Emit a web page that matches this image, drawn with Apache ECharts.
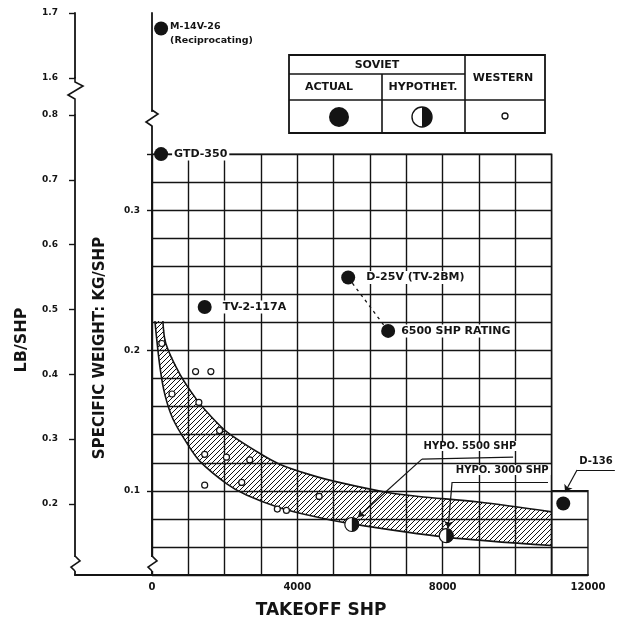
<!DOCTYPE html>
<html>
<head>
<meta charset="utf-8">
<script src="https://cdn.jsdelivr.net/npm/echarts@6/dist/echarts.min.js"></script>
<style>
  html, body { margin: 0; padding: 0; background: #fff; }
  #chart { width: 629px; height: 628px; }
</style>
</head>
<body>
<div id="chart"></div>
<script>
// ---- data: takeoff power (shp) and specific weight (kg/shp) ----
const actualNames = ['GTD-350', 'TV-2-117A', 'D-25V (TV-2BM)', '6500 SHP RATING', 'D-136'];
const actualShp   = [250, 1450, 5400, 6500, 11320];
const actualKg    = [0.340, 0.231, 0.252, 0.214, 0.091];

const recipNames = ['M-14V-26'];
const recipShp   = [250];
const recipKg    = [0.759];

const hypoNames = ['HYPO. 5500 SHP', 'HYPO. 3000 SHP'];
const hypoShp   = [5500, 8100];
const hypoKg    = [0.076, 0.068];

const westernShp = [270, 550, 1200, 1620, 1290, 1860, 1450, 2050, 2690, 1450, 2470, 3450, 3700, 4600];
const westernKg  = [0.205, 0.169, 0.185, 0.185, 0.163, 0.143, 0.126, 0.124, 0.122, 0.104, 0.106, 0.087, 0.086, 0.096];

// band of current practice (upper and lower edges)
const bandUpperShp = [300, 380, 770, 1230, 1590, 2060, 2880, 3510, 4410, 5150, 6440, 7340, 8990, 11000];
const bandUpperKg  = [0.221, 0.205, 0.183, 0.165, 0.154, 0.142, 0.128, 0.119, 0.111, 0.106, 0.099, 0.096, 0.092, 0.085];
const bandLowerShp = [80, 220, 360, 580, 960, 1320, 2060, 2600, 3510, 4410, 5370, 8080, 11000];
const bandLowerKg  = [0.221, 0.188, 0.168, 0.151, 0.134, 0.121, 0.105, 0.097, 0.088, 0.082, 0.077, 0.067, 0.061];

// tick labels
const shpTicks     = [0, 4000, 8000, 12000];
const kgTicks      = [0.1, 0.2, 0.3];
const lbLowerTicks = [0.2, 0.3, 0.4, 0.5, 0.6, 0.7, 0.8];
const lbUpperTicks = [1.6, 1.7];

// ---- layout ----
const X0 = 152;        // pixel of 0 shp
const KX = 0.03633;    // px per shp
const KY = 1403;       // px per kg/shp
const YB = 575;        // baseline (0.04 kg/shp)
const KLB = 648;       // px per lb/shp
const INK = '#141414';
const FONT = '"DejaVu Sans", "Liberation Sans", sans-serif';

const grids = [
  // 0: main ruled grid 0..11000 shp, 0.04..0.34 kg/shp
  { left: X0, top: YB - 0.30 * KY, width: 11000 * KX, height: 0.30 * KY, show: true, borderColor: INK, borderWidth: 1.4 },
  // 1: upper segment of the kg axis (above the break)
  { left: X0, top: 13, width: 12000 * KX, height: 0.07 * KY },
  // 2: kg axis below the break + takeoff shp axis
  { left: X0, top: YB - 0.32 * KY, width: 12000 * KX, height: 0.32 * KY },
  // 3: lb axis, lower segment
  { left: 75, top: 115, width: X0 - 75, height: 0.71 * KLB },
  // 4: lb axis, upper segment
  { left: 75, top: 13, width: 1, height: 0.1 * KLB },
  // 5: small ruled box at 11000..12000 shp
  { left: X0 + 11000 * KX, top: YB - 0.06 * KY, width: 1000 * KX, height: 0.06 * KY, show: true, borderColor: INK, borderWidth: 1.4 },
  // 6: data layer
  { left: X0, top: YB - 0.30 * KY, width: 13000 * KX, height: 0.30 * KY }
].map(g => Object.assign({ containLabel: false, outerBoundsMode: 'none' }, g));

const split = { show: true, lineStyle: { color: INK, width: 1.4 } };
const axLine = { show: true, onZero: false, lineStyle: { color: INK, width: 1.8 } };
const hidden = { show: false };
const oneDec = v => Number(v).toFixed(1);
const plain = v => String(Math.round(v));

const xAxes = [
  { gridIndex: 0, type: 'value', min: 0, max: 11000, interval: 1000, axisLine: hidden, axisTick: hidden, axisLabel: hidden, splitLine: split },
  { gridIndex: 1, type: 'value', min: 0, max: 12000, show: false },
  { gridIndex: 2, type: 'value', min: 0, max: 12000, axisLine: axLine, axisTick: hidden, splitLine: hidden,
    axisLabel: { customValues: shpTicks, formatter: plain, margin: 7, color: INK, fontFamily: FONT, fontWeight: 'bold', fontSize: 10 } },
  { gridIndex: 3, type: 'value', min: 0, max: 1, axisLine: axLine, axisTick: hidden, axisLabel: hidden, splitLine: hidden },
  { gridIndex: 4, type: 'value', min: 0, max: 1, show: false },
  { gridIndex: 5, type: 'value', min: 11000, max: 12000, show: false },
  { gridIndex: 6, type: 'value', min: 0, max: 13000, show: false }
];

const yAxes = [
  { gridIndex: 0, type: 'value', min: 0.04, max: 0.34, interval: 0.02, axisLine: hidden, axisTick: hidden, axisLabel: hidden, splitLine: split },
  { gridIndex: 1, type: 'value', min: 0.70, max: 0.77, axisLine: axLine, axisTick: hidden, axisLabel: hidden, splitLine: hidden },
  { gridIndex: 2, type: 'value', min: 0.04, max: 0.36, axisLine: axLine, splitLine: hidden,
    axisTick: { show: true, customValues: kgTicks.concat([0.34]), length: 5, lineStyle: { color: INK, width: 1.4 } },
    axisLabel: { customValues: kgTicks, formatter: oneDec, margin: 12, color: INK, fontFamily: FONT, fontWeight: 'bold', fontSize: 9 } },
  { gridIndex: 3, type: 'value', min: 0.09, max: 0.80, axisLine: axLine, splitLine: hidden,
    axisTick: { show: true, customValues: lbLowerTicks, length: 6, lineStyle: { color: INK, width: 1.4 } },
    axisLabel: { customValues: lbLowerTicks, formatter: oneDec, margin: 17, color: INK, fontFamily: FONT, fontWeight: 'bold', fontSize: 9 } },
  { gridIndex: 4, type: 'value', min: 1.6, max: 1.7, axisLine: axLine, splitLine: hidden,
    axisTick: { show: true, customValues: lbUpperTicks, length: 6, lineStyle: { color: INK, width: 1.4 } },
    axisLabel: { customValues: lbUpperTicks, formatter: oneDec, margin: 17, color: INK, fontFamily: FONT, fontWeight: 'bold', fontSize: 9 } },
  { gridIndex: 5, type: 'value', min: 0.04, max: 0.10, interval: 0.02, axisLine: hidden, axisTick: hidden, axisLabel: hidden, splitLine: split },
  { gridIndex: 6, type: 'value', min: 0.04, max: 0.34, show: false }
];

// diagonal hatching for the band
const hatch = document.createElement('canvas');
hatch.width = 5; hatch.height = 5;
(function () {
  const c = hatch.getContext('2d');
  c.strokeStyle = '#111';
  c.lineWidth = 1;
  c.beginPath();
  c.moveTo(0, 5); c.lineTo(5, 0);
  c.moveTo(-1, 1); c.lineTo(1, -1);
  c.moveTo(4, 6); c.lineTo(6, 4);
  c.stroke();
})();

const zip = (xs, ys) => xs.map((x, i) => [x, ys[i]]);

// leader lines for annotations (polyline points, last point carries the arrow)
const leaderNames   = ['HYPO. 5500 SHP', 'HYPO. 3000 SHP', 'D-136'];
const leaderTextPos = [[8750, 0.132], [9640, 0.1148], [12220, 0.1212]];
const leaderPaths = [
  [[9940, 0.124], [7430, 0.1226], [5670, 0.0813]],
  [[10900, 0.1062], [8260, 0.1062], [8150, 0.0734]],
  [[12740, 0.1148], [11700, 0.1148], [11370, 0.0991]]
];
const leaderSegments = [];
leaderPaths.forEach(path => {
  for (let i = 0; i < path.length - 1; i++) {
    const last = i === path.length - 2;
    leaderSegments.push([
      { coord: path[i], symbol: 'none' },
      { coord: path[i + 1], symbol: last ? 'arrow' : 'none', symbolSize: 7 }
    ]);
  }
});

const labelDist = [4, 9, 9, 4, 6];
const actualData = actualNames.map((n, i) => ({
  name: n,
  value: [actualShp[i], actualKg[i]],
  label: { show: n !== 'D-136', distance: labelDist[i] }
}));

const series = [
  {
    type: 'custom', name: 'band', xAxisIndex: 6, yAxisIndex: 6, z: 2, silent: true,
    data: [[0, 0.04]],
    renderItem: function (params, api) {
      const up = zip(bandUpperShp, bandUpperKg).map(p => api.coord(p));
      const lo = zip(bandLowerShp, bandLowerKg).map(p => api.coord(p));
      const poly = up.concat(lo.slice().reverse());
      return {
        type: 'group',
        children: [
          { type: 'polygon', shape: { points: poly }, style: { fill: { image: hatch, repeat: 'repeat' }, stroke: null } },
          { type: 'polyline', shape: { points: up, smooth: 0.3, smoothConstraint: false }, style: { fill: null, stroke: INK, lineWidth: 1.6 } },
          { type: 'polyline', shape: { points: lo, smooth: 0.3, smoothConstraint: false }, style: { fill: null, stroke: INK, lineWidth: 1.6 } }
        ]
      };
    }
  },
  {
    type: 'line', name: 'D-25V link', xAxisIndex: 6, yAxisIndex: 6, z: 3, silent: true,
    symbol: 'none', clip: false,
    data: [[actualShp[2], actualKg[2]], [actualShp[3], actualKg[3]]],
    lineStyle: { color: INK, width: 1.3, type: [3, 4] }
  },
  {
    type: 'scatter', name: 'Western', xAxisIndex: 6, yAxisIndex: 6, z: 5, clip: false,
    symbol: 'circle', symbolSize: 6,
    itemStyle: { color: '#fff', borderColor: INK, borderWidth: 1.2, opacity: 1 },
    data: zip(westernShp, westernKg)
  },
  {
    type: 'custom', name: 'Hypothetical', xAxisIndex: 6, yAxisIndex: 6, z: 6,
    data: hypoNames.map((n, i) => ({ name: n, value: [hypoShp[i], hypoKg[i]] })),
    renderItem: function (params, api) {
      const c = api.coord([api.value(0), api.value(1)]);
      return {
        type: 'group',
        children: [
          { type: 'circle', shape: { cx: c[0], cy: c[1], r: 7 }, style: { fill: '#fff', stroke: INK, lineWidth: 1.2 } },
          { type: 'sector', shape: { cx: c[0], cy: c[1], r: 7, r0: 0, startAngle: -Math.PI / 2, endAngle: Math.PI / 2 }, style: { fill: INK } }
        ]
      };
    }
  },
  {
    type: 'scatter', name: 'Soviet actual', xAxisIndex: 6, yAxisIndex: 6, z: 7, clip: false,
    symbol: 'circle', symbolSize: 14,
    itemStyle: { color: INK, opacity: 1 },
    label: {
      show: true, position: 'right', formatter: '{b}', color: INK,
      fontFamily: FONT, fontWeight: 'bold', fontSize: 11,
      backgroundColor: '#fff', padding: [1, 2]
    },
    data: actualData
  },
  {
    type: 'scatter', name: 'Reciprocating', xAxisIndex: 1, yAxisIndex: 1, z: 7, clip: false,
    symbol: 'circle', symbolSize: 14,
    itemStyle: { color: INK, opacity: 1 },
    label: {
      show: true, position: 'right', distance: 2, offset: [0, 5],
      formatter: '{b}\n(Reciprocating)', color: INK, lineHeight: 14,
      fontFamily: FONT, fontWeight: 'bold', fontSize: 9.5
    },
    data: recipNames.map((n, i) => ({ name: n, value: [recipShp[i], recipKg[i]] }))
  },
  {
    type: 'scatter', name: 'annotations', xAxisIndex: 6, yAxisIndex: 6, z: 8, clip: false, silent: true,
    symbolSize: 0.1, itemStyle: { color: 'transparent', opacity: 1 },
    label: {
      show: true, position: 'inside', formatter: '{b}', color: INK,
      fontFamily: FONT, fontWeight: 'bold', fontSize: 10,
      backgroundColor: '#fff', padding: [0, 2]
    },
    data: leaderNames.map((n, i) => ({ name: n, value: leaderTextPos[i] })),
    markLine: {
      silent: true, animation: false, symbol: ['none', 'none'],
      label: { show: false },
      lineStyle: { color: INK, width: 1.2, type: 'solid', opacity: 1 },
      emphasis: { disabled: true },
      data: leaderSegments
    }
  }
];

// legend table and axis decorations
const txt = (x, y, s, size, extra) => Object.assign({
  type: 'text', x: x, y: y, z: 100,
  style: { text: s, fill: INK, fontFamily: FONT, fontWeight: 'bold', fontSize: size, align: 'center', verticalAlign: 'middle' }
}, extra || {});
const seg = (x1, y1, x2, y2, w) => ({
  type: 'line', z: 100, shape: { x1: x1, y1: y1, x2: x2, y2: y2 }, style: { stroke: INK, lineWidth: w || 1.6 }
});
const zig = pts => ({ type: 'polyline', z: 101, shape: { points: pts }, style: { stroke: INK, lineWidth: 1.6, fill: null } });
const blank = (x, y, w, h) => ({ type: 'rect', z: 100, shape: { x: x, y: y, width: w, height: h }, style: { fill: '#fff' } });

const graphics = [
  // legend box
  { type: 'rect', z: 100, shape: { x: 289, y: 55, width: 256, height: 78 }, style: { fill: '#fff', stroke: INK, lineWidth: 1.8 } },
  seg(289, 74, 465, 74), seg(289, 100, 545, 100), seg(382, 74, 382, 133), seg(465, 55, 465, 133),
  txt(377, 65, 'SOVIET', 11), txt(329, 87, 'ACTUAL', 11), txt(423, 87, 'HYPOTHET.', 11), txt(503, 78, 'WESTERN', 11),
  { type: 'circle', z: 101, shape: { cx: 339, cy: 117, r: 10 }, style: { fill: INK } },
  { type: 'circle', z: 101, shape: { cx: 422, cy: 117, r: 10 }, style: { fill: '#fff', stroke: INK, lineWidth: 1.4 } },
  { type: 'sector', z: 102, shape: { cx: 422, cy: 117, r: 10, r0: 0, startAngle: -Math.PI / 2, endAngle: Math.PI / 2 }, style: { fill: INK } },
  { type: 'circle', z: 101, shape: { cx: 505, cy: 116, r: 3 }, style: { fill: '#fff', stroke: INK, lineWidth: 1.3 } },
  // axis breaks
  zig([[75, 77], [75, 82], [83, 86], [68, 95], [75, 99], [75, 115]]),
  zig([[152, 110], [158, 114], [146, 122], [152, 126]]),
  blank(68, 557, 16, 14), zig([[75, 556], [80, 561], [71, 567], [75, 571]]),
  blank(145, 557, 16, 14), zig([[152, 556], [157, 561], [148, 567], [152, 571]]),
  // axis titles
  txt(22, 340, 'LB/SHP', 16, { rotation: Math.PI / 2 }),
  txt(100, 348, 'SPECIFIC WEIGHT: KG/SHP', 15, { rotation: Math.PI / 2 }),
  txt(321, 611, 'TAKEOFF SHP', 17)
];

const chart = echarts.init(document.getElementById('chart'), null, { renderer: 'canvas' });
chart.setOption({
  animation: false,
  backgroundColor: '#fff',
  grid: grids,
  xAxis: xAxes,
  yAxis: yAxes,
  series: series,
  graphic: { elements: graphics }
});
</script>
</body>
</html>
